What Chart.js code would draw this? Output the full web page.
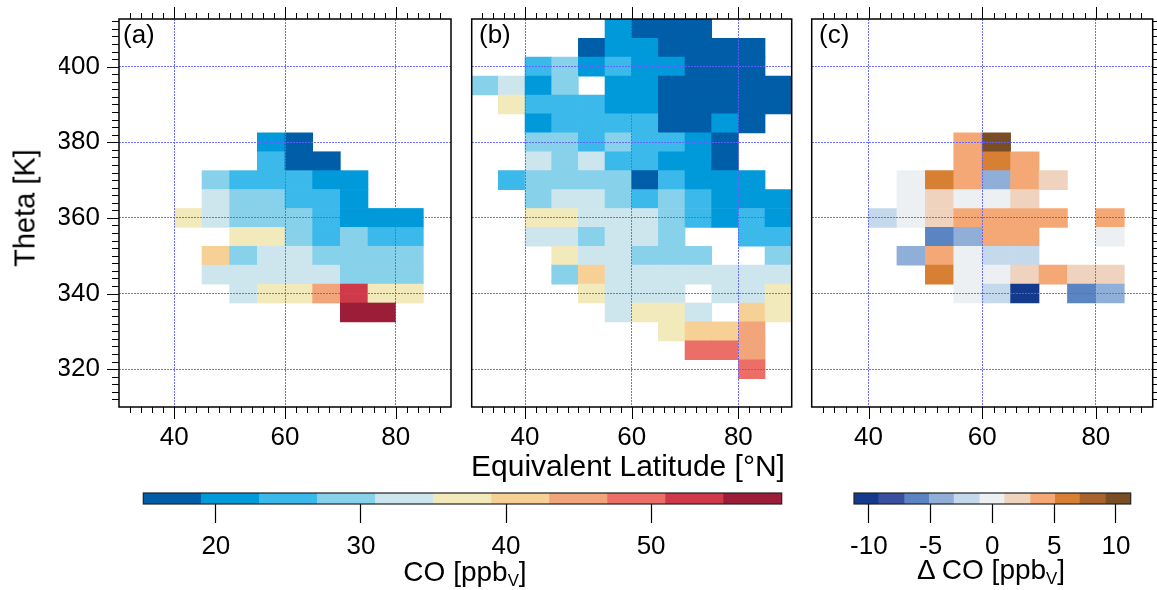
<!DOCTYPE html>
<html>
<head>
<meta charset="utf-8">
<script src="https://cdn.jsdelivr.net/npm/chart.js@4.4.1/dist/chart.umd.min.js"></script>
<style>
  body { margin: 0; background: #fff; }
  #wrap { position: relative; width: 1157px; height: 590px; overflow: hidden; font-family: "Liberation Sans", Arial, sans-serif; color: #000; }
  #wrap canvas { position: absolute; left: 0; top: 0; }
  .lbl { position: absolute; white-space: nowrap; line-height: 1; }
  .mid { transform: translate(-50%, -50%); }
  .lbl sub { font-size: 0.6em; vertical-align: -0.3em; }
</style>
</head>
<body>
<div id="wrap">
  <canvas id="panelA" width="1157" height="590"></canvas>
  <canvas id="panelB" width="1157" height="590"></canvas>
  <canvas id="panelC" width="1157" height="590"></canvas>
  <canvas id="barCO" width="1157" height="590"></canvas>
  <canvas id="barDCO" width="1157" height="590"></canvas>

  <div class="lbl" style="left:123px; top:21px; font-size:26px">(a)</div>
  <div class="lbl" style="left:479px; top:21px; font-size:26px">(b)</div>
  <div class="lbl" style="left:819px; top:21px; font-size:26px">(c)</div>
  <div class="lbl" style="left:25px; top:208px; font-size:29px; transform: translate(-50%, -50%) rotate(-90deg)">Theta [K]</div>
  <div class="lbl mid" style="left:628px; top:466px; font-size:30px">Equivalent Latitude [°N]</div>
  <div class="lbl mid" style="left:465px; top:574px; font-size:28px">CO [ppb<sub>V</sub>]</div>
  <div class="lbl mid" style="left:991px; top:572px; font-size:28px">Δ CO [ppb<sub>V</sub>]</div>
</div>

<script>
const _ = null;

// latitude bins are 5 deg wide (30-35 ... 85-90), theta bins 5 K wide
const latCenters = [32.5, 37.5, 42.5, 47.5, 52.5, 57.5, 62.5, 67.5, 72.5, 77.5, 82.5, 87.5];
const latTicks = [40, 60, 80];
const thetaTicks = [320, 340, 360, 380, 400];

// (a) CO, ppbV
const thetaA = [380, 375, 370, 365, 360, 355, 350, 345, 340, 335];
const coA = [
  [_, _, _, _, _, 21, 17, _, _, _, _, _],
  [_, _, _, _, _, 25, 17, 17, _, _, _, _],
  [_, _, _, 29, 25, 25, 25, 21, 21, _, _, _],
  [_, _, _, 33, 29, 29, 25, 25, 21, _, _, _],
  [_, _, 37, 33, 29, 29, 29, 25, 21, 21, 21, _],
  [_, _, _, _, 37, 37, 29, 25, 29, 25, 25, _],
  [_, _, _, 41, 29, 33, 33, 29, 29, 29, 29, _],
  [_, _, _, 33, 33, 33, 33, 33, 29, 29, 29, _],
  [_, _, _, _, 33, 37, 37, 45, 53, 37, 37, _],
  [_, _, _, _, _, _, _, _, 57, 57, _, _]
];

// (b) CO, ppbV
const thetaB = [410, 405, 400, 395, 390, 385, 380, 375, 370, 365, 360, 355, 350, 345, 340, 335, 330, 325, 320];
const coB = [
  [_, _, _, _, _, 21, 17, 17, 17, _, _, _],
  [_, _, _, _, 17, 21, 21, 17, 17, 17, 17, _],
  [_, _, 25, 29, 21, 25, 21, 21, 17, 17, 17, _],
  [29, 33, 21, 29, _, 21, 21, 17, 17, 17, 17, 17],
  [_, 37, 25, 25, 25, 21, 21, 17, 17, 17, 17, 17],
  [_, _, 21, 25, 25, 25, 25, 17, 17, 21, 17, _],
  [_, _, 29, 29, 25, 29, 25, 25, 21, 17, _, _],
  [_, _, 33, 29, 33, 25, 25, 21, 21, 17, _, _],
  [_, 25, 29, 29, 29, 29, 17, 25, 21, 21, 21, _],
  [_, _, 29, 33, 33, 29, 25, 29, 25, 21, 21, 21],
  [_, _, 37, 37, 33, 33, 33, 29, 25, 21, 25, 21],
  [_, _, 33, 33, 29, 33, 33, 29, _, _, 25, 25],
  [_, _, _, 37, 33, 33, 29, 29, 29, _, _, 29],
  [_, _, _, 29, 41, 33, 33, 33, 33, 33, 33, 33],
  [_, _, _, _, 37, 33, 33, 33, _, 33, 33, 37],
  [_, _, _, _, _, 33, 37, 37, 33, _, 41, 37],
  [_, _, _, _, _, _, _, 37, 41, 41, 45, _],
  [_, _, _, _, _, _, _, _, 49, 49, 45, _],
  [_, _, _, _, _, _, _, _, _, _, 49, _]
];

// (c) delta CO, ppbV
const thetaC = [380, 375, 370, 365, 360, 355, 350, 345, 340];
const dcoC = [
  [_, _, _, _, _, 4, 10, _, _, _, _, _],
  [_, _, _, _, _, 4, 6, 4, _, _, _, _],
  [_, _, _, 0, 6, 4, -4, 4, 2, _, _, _],
  [_, _, _, 0, 2, 0, 0, 2, _, _, _, _],
  [_, _, -2, 0, 2, 4, 4, 4, 4, _, 4, _],
  [_, _, _, _, -6, -4, 4, 4, _, _, 0, _],
  [_, _, _, -4, 4, 0, -2, -2, _, _, _, _],
  [_, _, _, _, 6, 0, 0, 2, 4, 2, 2, _],
  [_, _, _, _, _, 0, -2, -10, _, -6, -4, _]
];

// colour levels
const coEdges = [15, 19, 23, 27, 31, 35, 39, 43, 47, 51, 55, 59];
const coColors = ['#005da8', '#0099da', '#3bb9ea', '#88d1ea', '#cde6ee', '#f2eabb',
                  '#f7d095', '#f2a57a', '#eb6e67', '#ce3a49', '#9c1d38'];
const coTicks = [20, 30, 40, 50];
const dcoEdges = [-11.2, -9.2, -7.1, -5.1, -3.1, -1, 1, 3.1, 5.1, 7.1, 9.2, 11.2];
const dcoColors = ['#143a8e', '#3a4fa0', '#5b84c2', '#8faed8', '#c4daec', '#ecf0f3',
                   '#f0d3be', '#f4a876', '#d77f33', '#a8642c', '#7a4e25'];
const dcoTicks = [-10, -5, 0, 5, 10];

Chart.defaults.font.family = '"Liberation Sans", Arial, sans-serif';
Chart.defaults.color = '#000';

const W = 1157, H = 590;
const gridBlue = 'rgba(95, 95, 255, 0.9)';

function colorFor(v, edges, colors) {
  for (let i = 0; i < colors.length; i++) {
    if (v < edges[i + 1]) return colors[i];
  }
  return colors[colors.length - 1];
}

function cells(thetas, rows) {
  const pts = [];
  rows.forEach((row, r) => {
    row.forEach((v, c) => {
      if (v === null) return;
      pts.push({ x: latCenters[c], y: [thetas[r] - 2.5, thetas[r] + 2.5], v: v });
    });
  });
  return pts;
}

// no label padding, the plot box is placed by hand
function noPad(s) {
  s.paddingTop = 0; s.paddingBottom = 0; s.paddingLeft = 0; s.paddingRight = 0;
}

// frame + minor/major ticks drawn outside the plot box
function frameTicks(sides) {
  return {
    id: 'frameTicks',
    afterDraw(chart) {
      const { ctx, chartArea: a, scales: { x, y } } = chart;
      ctx.save();
      ctx.strokeStyle = '#000';
      ctx.lineWidth = 1;
      ctx.beginPath();
      for (let v = 32; v <= 88; v += 2) {
        const px = Math.round(x.getPixelForValue(v)) + 0.5;
        const len = latTicks.includes(v) ? 12 : 6;
        if (sides.includes('top')) { ctx.moveTo(px, a.top); ctx.lineTo(px, a.top - len); }
        if (sides.includes('bottom')) { ctx.moveTo(px, a.bottom); ctx.lineTo(px, a.bottom + len); }
      }
      for (let v = 312; v <= 412; v += 2) {
        const py = Math.round(y.getPixelForValue(v)) + 0.5;
        const len = thetaTicks.includes(v) ? 12 : 7;
        if (sides.includes('left')) { ctx.moveTo(a.left, py); ctx.lineTo(a.left - len, py); }
        if (sides.includes('right')) { ctx.moveTo(a.right, py); ctx.lineTo(a.right + len, py); }
      }
      ctx.stroke();
      ctx.lineWidth = 1.5;
      ctx.strokeRect(a.left, a.top, a.width, a.height);
      ctx.restore();
    }
  };
}

const boxOutline = {
  id: 'boxOutline',
  afterDraw(chart) {
    const { ctx, chartArea: a } = chart;
    ctx.save();
    ctx.strokeStyle = '#222';
    ctx.lineWidth = 1.2;
    ctx.strokeRect(a.left, a.top, a.width, a.height);
    ctx.restore();
  }
};

function makePanel(id, thetas, rows, edges, colors, box) {
  new Chart(document.getElementById(id), {
    type: 'bar',
    data: {
      datasets: [{
        data: cells(thetas, rows),
        backgroundColor: ctx => ctx.raw ? colorFor(ctx.raw.v, edges, colors) : 'transparent',
        borderWidth: 0,
        barPercentage: 1,
        categoryPercentage: 1
      }]
    },
    options: {
      responsive: false,
      animation: false,
      events: [],
      layout: { padding: { left: box.left - 60, right: W - box.right, top: 19, bottom: H - 407 - 60 } },
      plugins: { legend: { display: false }, tooltip: { enabled: false } },
      scales: {
        x: {
          type: 'linear',
          min: 30,
          max: 90,
          offset: false,
          afterBuildTicks: s => { s.ticks = latTicks.map(v => ({ value: v })); },
          afterFit: s => { s.height = 60; noPad(s); },
          grid: { color: gridBlue, lineWidth: 1, drawTicks: false, offset: false, z: 1 },
          border: { display: false, dash: [2, 1] },
          ticks: { font: { size: 26 }, padding: 15, maxRotation: 0 }
        },
        y: {
          type: 'linear',
          min: 310,
          max: 412.6,
          afterBuildTicks: s => { s.ticks = thetaTicks.map(v => ({ value: v })); },
          afterFit: s => { s.width = 60; noPad(s); },
          grid: { color: gridBlue, lineWidth: 1, drawTicks: false, z: 1 },
          border: { display: false, dash: [2, 1] },
          ticks: { display: box.yLabels, font: { size: 26 }, padding: 19 }
        }
      }
    },
    plugins: [frameTicks(box.sides)]
  });
}

function makeColorbar(id, edges, colors, ticks, box) {
  const segs = colors.map((c, i) => ({ x: [edges[i], edges[i + 1]], y: 'bar' }));
  new Chart(document.getElementById(id), {
    type: 'bar',
    data: {
      labels: ['bar'],
      datasets: [{
        data: segs,
        backgroundColor: colors,
        borderWidth: 0,
        barPercentage: 1,
        categoryPercentage: 1
      }]
    },
    options: {
      indexAxis: 'y',
      responsive: false,
      animation: false,
      events: [],
      layout: { padding: { left: box.left, right: W - box.right, top: 493, bottom: H - 504 - 60 } },
      plugins: { legend: { display: false }, tooltip: { enabled: false } },
      scales: {
        x: {
          type: 'linear',
          min: edges[0],
          max: edges[edges.length - 1],
          afterBuildTicks: s => { s.ticks = ticks.map(v => ({ value: v })); },
          afterFit: s => { s.height = 60; noPad(s); },
          grid: { drawOnChartArea: false, drawTicks: true, tickLength: 19, tickColor: '#000', tickWidth: 1.2 },
          border: { display: false },
          ticks: { font: { size: 26 }, padding: 8, maxRotation: 0 }
        },
        y: { type: 'category', display: false }
      }
    },
    plugins: [boxOutline]
  });
}

makePanel('panelA', thetaA, coA, coEdges, coColors, { left: 119, right: 451, yLabels: true, sides: ['top', 'bottom', 'left'] });
makePanel('panelB', thetaB, coB, coEdges, coColors, { left: 471.7, right: 791.7, yLabels: false, sides: ['top', 'bottom'] });
makePanel('panelC', thetaC, dcoC, dcoEdges, dcoColors, { left: 811.7, right: 1152.7, yLabels: false, sides: ['top', 'bottom', 'right'] });
makeColorbar('barCO', coEdges, coColors, coTicks, { left: 143.3, right: 781.7 });
makeColorbar('barDCO', dcoEdges, dcoColors, dcoTicks, { left: 854, right: 1130.7 });
</script>
</body>
</html>
